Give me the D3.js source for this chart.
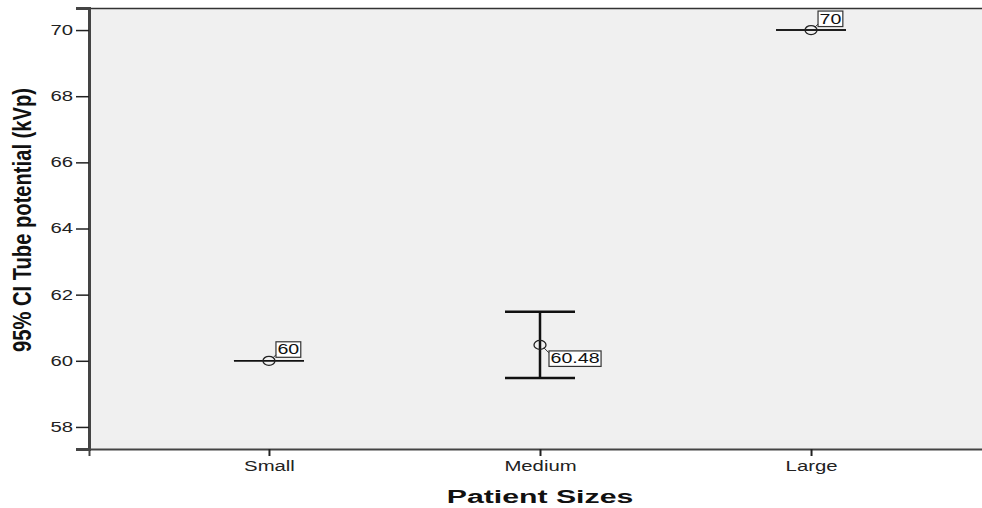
<!DOCTYPE html>
<html>
<head>
<meta charset="utf-8">
<script src="https://cdn.jsdelivr.net/npm/d3@7"></script>
<style>
  body { margin: 0; background: #fff; }
  svg { display: block; }
  text { font-family: "Liberation Sans", Arial, sans-serif; }
</style>
</head>
<body>
<div id="chart"></div>
<script>
// data
const categories = ['Small', 'Medium', 'Large'];
const means = [60, 60.48, 70];
const lower = [60, 59.48, 70];
const upper = [60, 61.48, 70];
const valueLabels = ['60', '60.48', '70'];
const yTicks = [58, 60, 62, 64, 66, 68, 70];

const width = 982;
const height = 508;

// plot frame
const plotLeft = 89;
const plotRight = 991;
const plotTop = 8;
const plotBottom = 449;

// the source picture is stretched sideways, so text gets widened too
const stretch = 1.45;

const svg = d3.select('#chart').append('svg')
    .attr('width', width)
    .attr('height', height);

const x = d3.scalePoint().domain(categories).range([plotLeft, plotRight]).padding(0.664);
const y = d3.scaleLinear().domain([57.333, 70.667]).range([plotBottom, plotTop]);

// helper: widen horizontal text by the stretch factor
function widen(sel, factor) {
    sel.each(function () {
        const w = this.getComputedTextLength();
        d3.select(this)
            .attr('textLength', w * factor)
            .attr('lengthAdjust', 'spacingAndGlyphs');
    });
}

// plot background
svg.append('rect')
    .attr('x', plotLeft).attr('y', plotTop)
    .attr('width', plotRight - plotLeft).attr('height', plotBottom - plotTop)
    .attr('fill', '#f0f0f0');

// top border
svg.append('line')
    .attr('x1', plotLeft).attr('x2', width)
    .attr('y1', plotTop + 0.5).attr('y2', plotTop + 0.5)
    .attr('stroke', '#333').attr('stroke-width', 1.5);

// y axis
const $yAxis = svg.append('g')
    .attr('transform', `translate(${plotLeft},0)`)
    .call(d3.axisLeft(y).tickValues(yTicks).tickSize(13).tickPadding(3).tickFormat(d3.format('d')));
$yAxis.select('.domain').attr('stroke', '#444').attr('stroke-width', 3);
$yAxis.selectAll('.tick line').attr('stroke', '#222').attr('stroke-width', 1.5);
$yAxis.selectAll('.tick text')
    .attr('font-family', '"Liberation Sans", Arial, sans-serif')
    .attr('font-size', 14).attr('fill', '#222')
    .call(widen, stretch);

// x axis
const $xAxis = svg.append('g')
    .attr('transform', `translate(0,${plotBottom})`)
    .call(d3.axisBottom(x).tickSize(7).tickPadding(5));
$xAxis.select('.domain').attr('stroke', '#444').attr('stroke-width', 2);
$xAxis.selectAll('.tick line').attr('stroke', '#222').attr('stroke-width', 2);
$xAxis.selectAll('.tick text')
    .attr('font-family', '"Liberation Sans", Arial, sans-serif')
    .attr('font-size', 14).attr('fill', '#222')
    .call(widen, stretch);

// axis titles
svg.append('text')
    .attr('x', x('Medium')).attr('y', 503)
    .attr('text-anchor', 'middle')
    .attr('font-weight', 'bold')
    .attr('font-size', 18)
    .attr('fill', '#111')
    .text('Patient Sizes')
    .call(widen, 1.68);

svg.append('text')
    .attr('transform', `translate(22,220) scale(${stretch},1) rotate(-90)`)
    .attr('text-anchor', 'middle')
    .attr('dy', '0.35em')
    .attr('font-weight', 'bold')
    .attr('font-size', 17.5)
    .attr('fill', '#111')
    .attr('textLength', 264)
    .attr('lengthAdjust', 'spacingAndGlyphs')
    .text('95% CI Tube potential (kVp)');

// error bars
const capHalf = 35;
const $bars = svg.append('g').selectAll('g')
    .data(categories)
    .join('g');

$bars.each(function (c, i) {
    const g = d3.select(this);
    const cx = x(c);
    const thin = lower[i] === upper[i];
    const sw = thin ? 1.5 : 2.5;
    g.append('line')
        .attr('x1', cx).attr('x2', cx)
        .attr('y1', y(lower[i])).attr('y2', y(upper[i]))
        .attr('stroke', '#111').attr('stroke-width', sw);
    [lower[i], upper[i]].forEach(v => {
        g.append('line')
            .attr('x1', cx - capHalf).attr('x2', cx + capHalf)
            .attr('y1', y(v)).attr('y2', y(v))
            .attr('stroke', '#111').attr('stroke-width', sw);
    });
    // mean marker
    g.append('ellipse')
        .attr('cx', cx).attr('cy', y(means[i]))
        .attr('rx', 6).attr('ry', 4.5)
        .attr('fill', 'none').attr('stroke', '#222').attr('stroke-width', 1.3);

    // value label box
    const below = !thin;
    const bx = cx + (below ? 9 : 7);
    const by = y(means[i]) + (below ? 6 : -19);
    const t = g.append('text')
        .attr('x', bx + 1.5).attr('y', by + 12.5)
        .attr('font-size', 14)
        .attr('fill', '#111')
        .text(valueLabels[i])
        .call(widen, 1.4);
    const w = +t.attr('textLength');
    g.insert('rect', 'text')
        .attr('x', bx).attr('y', by)
        .attr('width', w + 3).attr('height', 15.5)
        .attr('fill', '#fff').attr('stroke', '#333').attr('stroke-width', 1.2);
    // short leader from marker to box
    g.append('line')
        .attr('x1', cx + 4).attr('y1', y(means[i]) + (below ? 3 : -3))
        .attr('x2', bx).attr('y2', below ? by + 2 : by + 13)
        .attr('stroke', '#333').attr('stroke-width', 1);
});
</script>
</body>
</html>
